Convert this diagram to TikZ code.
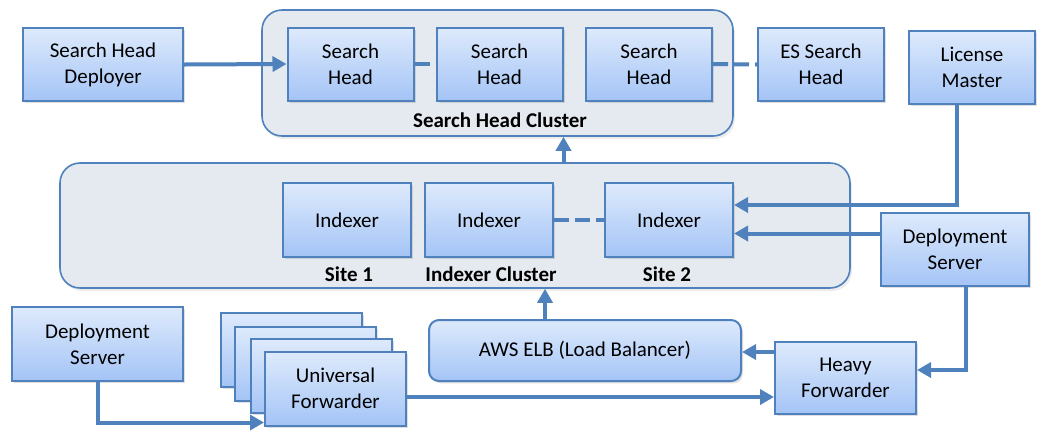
\documentclass[tikz,border=0pt]{standalone}
\usepackage{fontspec}
\setmainfont{Carlito}
\usetikzlibrary{arrows.meta,shadows}
\definecolor{boxblue}{RGB}{79,129,189}
\definecolor{boxtop}{RGB}{222,234,252}
\definecolor{boxbot}{RGB}{164,196,246}
\definecolor{clusterfill}{RGB}{229,233,240}

\begin{document}
\begin{tikzpicture}[x=0.5pt,y=-0.5pt,
  font=\fontsize{10.5}{13}\selectfont,
  box/.style={draw=boxblue,line width=1pt,top color=boxtop,bottom color=boxbot,
    align=center,inner sep=1pt,minimum width=63pt,minimum height=36.5pt,
    drop shadow={shadow xshift=1pt,shadow yshift=-1.2pt,opacity=0.25}},
  cluster/.style={draw=boxblue,line width=0.8pt,fill=clusterfill,rounded corners=10pt,
    inner sep=0pt,drop shadow={shadow xshift=1pt,shadow yshift=-1.5pt,opacity=0.15}},
  lbl/.style={font=\fontsize{10.5}{13}\selectfont\bfseries},
  arr/.style={draw=boxblue,line width=2pt,-{Triangle[length=7pt,width=7.5pt]}},
  link/.style={draw=boxblue,line width=2pt,dash pattern=on 7.5pt off 3pt}]
\useasboundingbox (0,0) rectangle (1042,430);

% clusters
\node[cluster,minimum width=235.5pt,minimum height=63pt] (shc) at (497.5,73) {};
\node[cluster,minimum width=395pt,minimum height=62.5pt] (idc) at (455,225.5) {};
\node[lbl] (shclbl) at (500,120) {Search Head Cluster};
\node[lbl] (site1) at (349,274) {Site 1};
\node[lbl] (idclbl) at (491,274) {Indexer Cluster};
\node[lbl] (site2) at (667,274) {Site 2};

% search tier
\node[box,minimum width=80pt] (shd) at (103,64.5) {Search Head\\Deployer};
\node[box] (sh1) at (350.5,64) {Search\\Head};
\node[box] (sh2) at (499.5,64) {Search\\Head};
\node[box] (sh3) at (649,64) {Search\\Head};
\node[box] (essh) at (821,64.5) {ES Search\\Head};
\node[box] (lm) at (972,67.5) {License\\Master};

% indexers
\node[box,minimum width=64pt,minimum height=37pt] (idx1) at (347,220) {Indexer};
\node[box,minimum width=64pt,minimum height=37pt] (idx2) at (489,220) {Indexer};
\node[box,minimum width=64pt,minimum height=37pt] (idx3) at (669,220) {Indexer};
\node[box,minimum width=74pt] (dsr) at (955,249.5) {Deployment\\Server};

% forwarding tier
\node[box,minimum width=85.5pt,minimum height=37pt] (dsl) at (97.5,344) {Deployment\\Server};
\node[box,minimum width=70.5pt,minimum height=37pt] (uf1) at (291,350) {};
\node[box,minimum width=70.5pt,minimum height=37pt] (uf2) at (305,363.5) {};
\node[box,minimum width=70.5pt,minimum height=37pt] (uf3) at (321,376) {};
\node[box,minimum width=70.5pt,minimum height=37pt] (uf) at (335.5,388.5) {Universal\\Forwarder};
\node[box,rounded corners=5pt,minimum width=156pt,minimum height=30.5pt] (elb) at (585,350.5) {AWS ELB (Load Balancer)};
\node[box,minimum width=70.5pt,minimum height=36pt] (hf) at (845.5,378) {Heavy\\Forwarder};

% links
\draw[arr] (shd.east) -- (sh1.west);
\draw[link] (sh1.east) -- (sh2.west);
\draw[link] (sh3.east) -- (essh.west);
\draw[link] (idx2.east) -- (idx3.west);
\draw[arr] (idc.north -| sh2.east) -- (shc.south -| sh2.east);
\draw[arr] ([xshift=-7.5pt]lm.south) |- ([yshift=7.5pt]idx3.east);
\draw[arr] ([yshift=8pt]dsr.west) -- ([yshift=8pt]dsr.west -| idx3.east);
\draw[arr] ([xshift=5.5pt]dsr.south) |- ([yshift=4pt]hf.east);
\draw[arr] ([yshift=13pt]hf.west) -- ([yshift=13pt]hf.west -| elb.east);
\draw[arr] ([xshift=-20pt]elb.north) -- ([xshift=-20pt]elb.north |- idc.south);
\draw[arr] (dsl.south) |- ([yshift=-17pt]uf.west);
\draw[arr] ([yshift=-4.25pt]uf.east) -- ([yshift=-4.25pt]uf.east -| hf.west);
\end{tikzpicture}
\end{document}
